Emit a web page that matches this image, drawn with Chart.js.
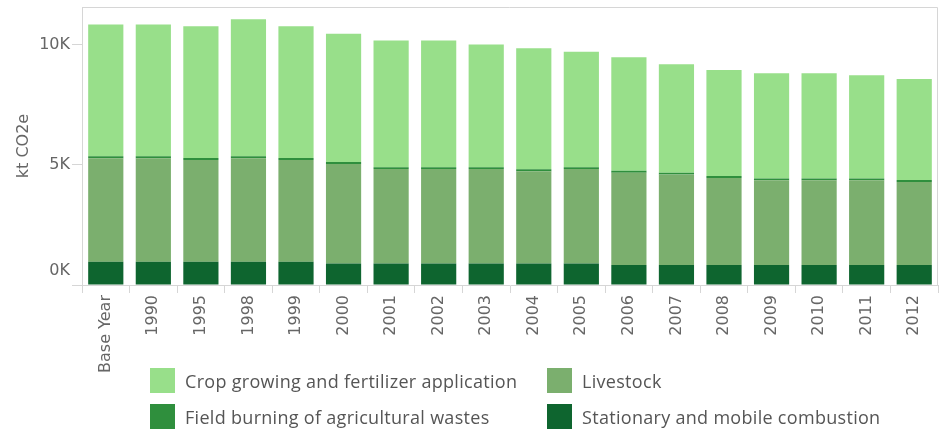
<!DOCTYPE html>
<html>
<head>
<meta charset="utf-8">
<script src="https://cdn.jsdelivr.net/npm/chart.js@4"></script>
<style>
  html, body { margin: 0; padding: 0; background: #fff; }
  #wrap { position: relative; width: 941px; height: 432px; }
  #legend {
    position: absolute; left: 150px; top: 368px;
    display: grid; grid-template-columns: 397px auto; row-gap: 11px;
    font-family: "Open Sans", sans-serif; font-size: 18px; letter-spacing: 0.3px; color: #555;
  }
  .item { display: flex; align-items: center; height: 25px; }
  .box { width: 25px; height: 25px; margin-right: 10px; }
</style>
</head>
<body>
<div id="wrap">
  <canvas id="chart" width="941" height="432"></canvas>
  <div id="legend"></div>
</div>
<script>
// --- data (kt CO2e) ---
const years = ['Base Year', '1990', '1995', '1998', '1999', '2000', '2001', '2002', '2003',
  '2004', '2005', '2006', '2007', '2008', '2009', '2010', '2011', '2012'];
const stationary = [970, 970, 970, 970, 970, 900, 900, 900, 900, 900, 900, 830, 830, 830, 830, 830, 830, 830];
const livestock = [4310, 4310, 4240, 4310, 4240, 4140, 3930, 3930, 3930, 3840, 3930, 3850, 3770, 3630, 3530, 3530, 3530, 3460];
const fieldBurning = [80, 80, 80, 80, 80, 80, 80, 80, 80, 80, 80, 80, 80, 80, 80, 80, 80, 80];
const cropGrowing = [5490, 5490, 5490, 5710, 5490, 5350, 5270, 5270, 5110, 5040, 4810, 4730, 4520, 4420, 4380, 4380, 4300, 4210];
const yTicks = [0, 5000, 10000];

// --- series styles (bottom to top in the stack) ---
const series = [
  { label: 'Stationary and mobile combustion', data: stationary, color: '#0e652f' },
  { label: 'Livestock', data: livestock, color: '#7baf6e' },
  { label: 'Field burning of agricultural wastes', data: fieldBurning, color: '#2f8f3d' },
  { label: 'Crop growing and fertilizer application', data: cropGrowing, color: '#98df8a' }
];
const legendOrder = [3, 1, 2, 0];

const borderColor = '#d6d6d6';
const labelColor = '#666';

// --- plot frame (top/right border) + y labels ---
const framePlugin = {
  id: 'frame',
  afterDraw(chart) {
    const { ctx, chartArea: a } = chart;
    ctx.save();
    ctx.strokeStyle = borderColor;
    ctx.lineWidth = 1;
    ctx.beginPath();
    ctx.moveTo(a.left, a.top + 0.5);
    ctx.lineTo(a.right - 0.5, a.top + 0.5);
    ctx.lineTo(a.right - 0.5, a.bottom);
    ctx.stroke();
    // y tick labels, the bottom one lifted clear of the x labels
    const y = chart.scales.y;
    ctx.fillStyle = labelColor;
    ctx.font = '16px "DejaVu Sans"';
    ctx.textAlign = 'right';
    ctx.textBaseline = 'middle';
    y.ticks.forEach(t => {
      let py = y.getPixelForValue(t.value);
      py = Math.min(py, a.bottom - 14);
      ctx.fillText((t.value / 1000) + 'K', a.left - 12, py);
    });
    ctx.restore();
  }
};

const ctx = document.getElementById('chart').getContext('2d');
new Chart(ctx, {
  type: 'bar',
  data: {
    labels: years,
    datasets: series.map(s => ({
      label: s.label,
      data: s.data,
      backgroundColor: s.color,
      borderWidth: 0,
      barPercentage: 0.74,
      categoryPercentage: 1
    }))
  },
  options: {
    responsive: false,
    animation: false,
    layout: { padding: { top: 7, right: 3, left: 0, bottom: 0 } },
    plugins: { legend: { display: false }, tooltip: { enabled: false } },
    scales: {
      x: {
        stacked: true,
        afterFit: s => { s.height = 432 - 285; },
        grid: { drawOnChartArea: false, color: borderColor, tickLength: 8 },
        border: { color: borderColor },
        ticks: {
          color: labelColor,
          font: { family: 'DejaVu Sans', size: 16 },
          maxRotation: 90, minRotation: 90,
          autoSkip: false, padding: 2
        }
      },
      y: {
        stacked: true,
        min: 0,
        max: 11580,
        afterBuildTicks: s => { s.ticks = yTicks.map(v => ({ value: v })); },
        afterFit: s => { s.width = 82; },
        grid: { drawOnChartArea: false, color: borderColor, tickLength: 10 },
        border: { color: borderColor },
        ticks: { display: false },
        title: {
          display: true, text: 'kt CO2e', color: labelColor,
          font: { family: 'DejaVu Sans', size: 16 },
          padding: { top: 14, bottom: 0 }
        }
      }
    }
  },
  plugins: [framePlugin]
});

// --- legend (two aligned columns) ---
const legendEl = document.getElementById('legend');
legendOrder.forEach(i => {
  const s = series[i];
  const item = document.createElement('div');
  item.className = 'item';
  item.innerHTML = `<span class="box" style="background:${s.color}"></span><span>${s.label}</span>`;
  legendEl.appendChild(item);
});
</script>
</body>
</html>
